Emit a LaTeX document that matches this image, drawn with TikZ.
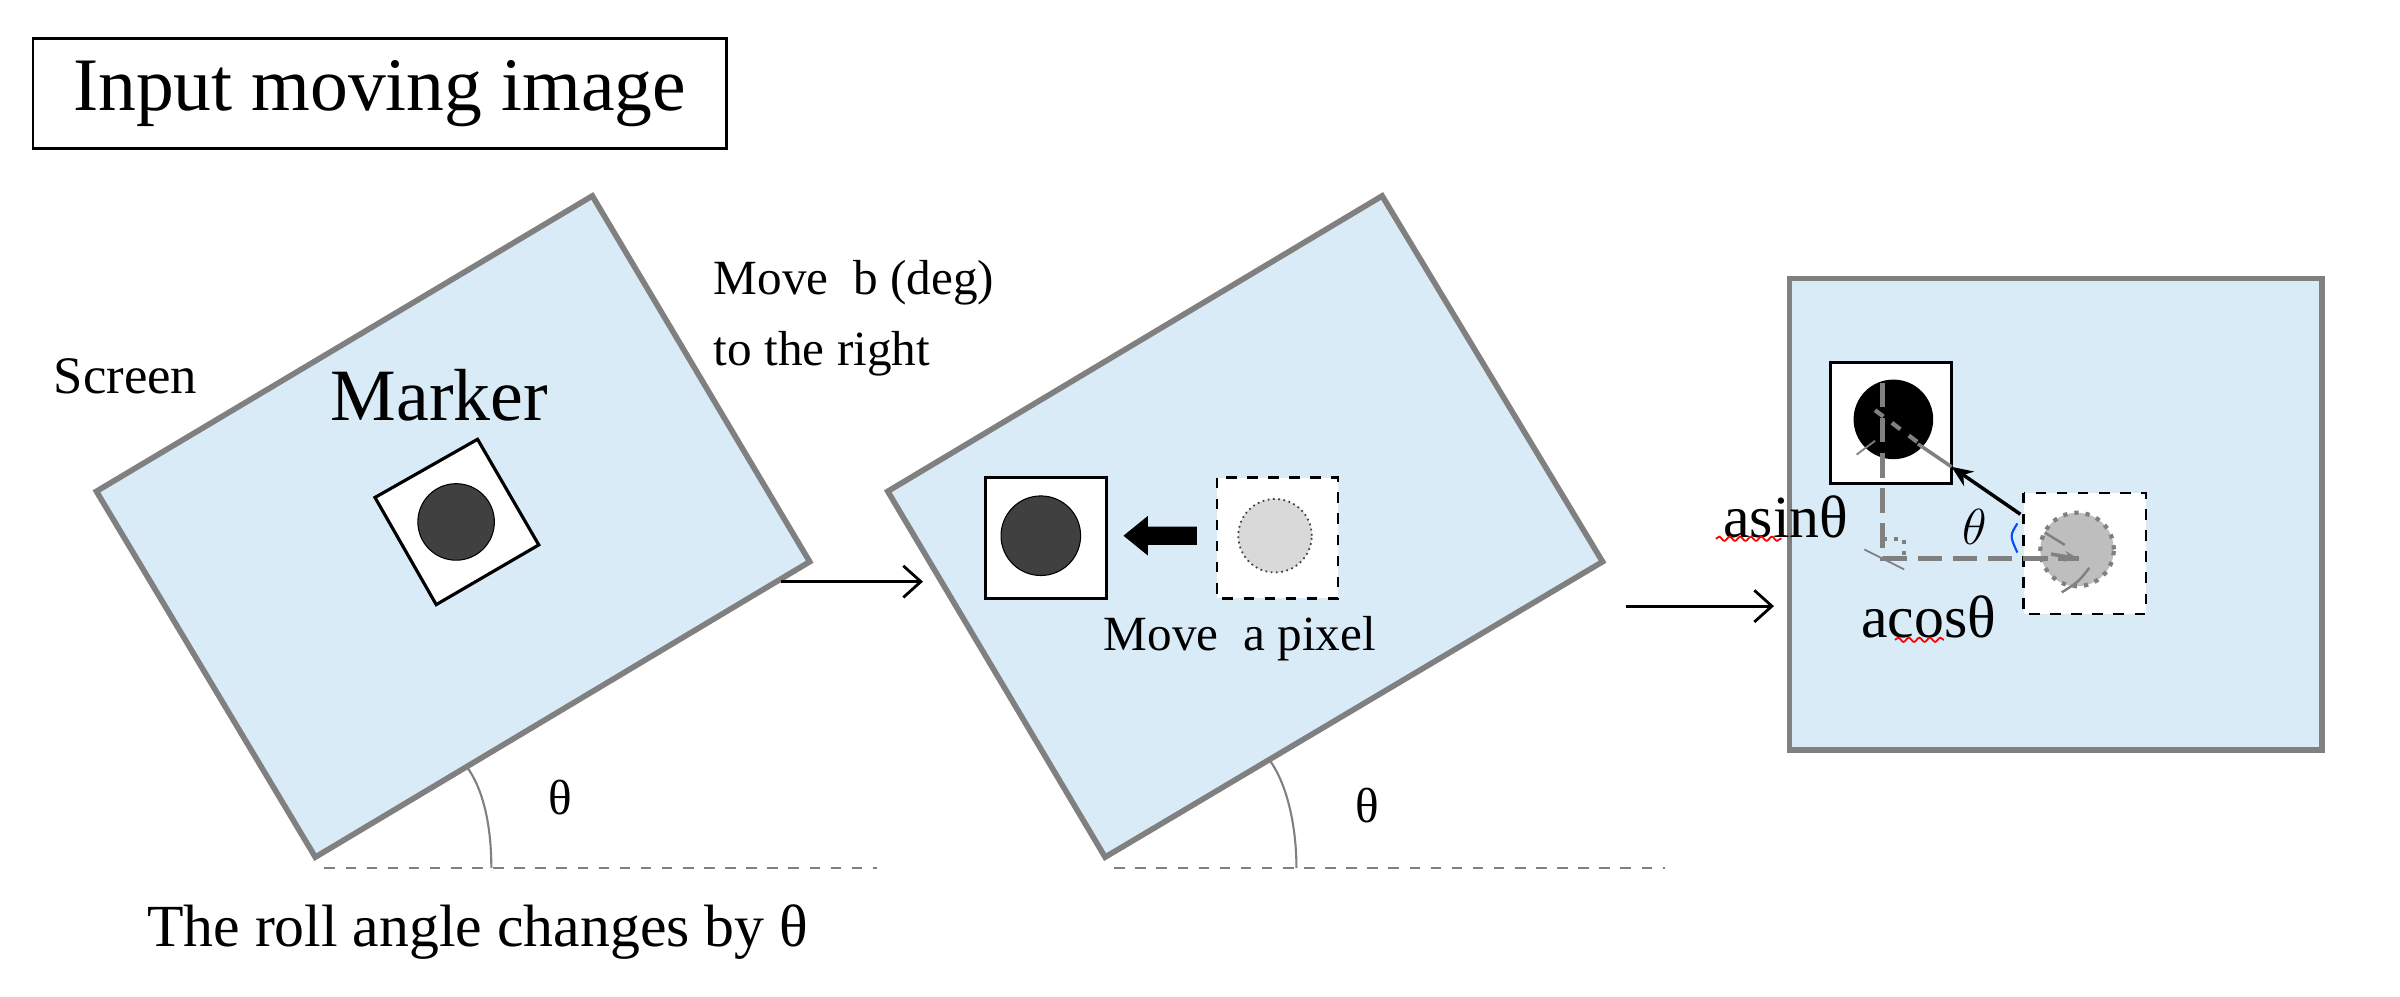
\documentclass[tikz,border=0pt]{standalone}
\usepackage{fontspec}
\setmainfont{Liberation Serif}
\usetikzlibrary{arrows.meta,decorations.pathmorphing}
\definecolor{scr}{RGB}{218,235,248}
\definecolor{edge}{RGB}{128,128,128}
\definecolor{dk}{RGB}{64,64,64}
\definecolor{lg}{RGB}{217,217,217}
\definecolor{mg}{RGB}{190,190,190}
\tikzset{
 screen/.style={fill=scr,draw=edge,line width=1.6pt},
 lbl/.style={font=\fontsize{14}{16}\selectfont,inner sep=0pt},
 big/.style={font=\fontsize{21.5}{24}\selectfont,inner sep=0pt},
 conn/.style={-{Straight Barb[length=5pt,width=9pt]},line width=0.8pt},
 base/.style={edge,dashed,line width=0.6pt},
 anglearc/.style={edge,line width=0.6pt},
 wavy/.style={red,line width=0.5pt,decorate,decoration={snake,amplitude=0.6pt,segment length=3pt}}
}
\begin{document}
\begin{tikzpicture}[x=0.0153cm,y=-0.0153cm]
\useasboundingbox (0,0) rectangle (1568,651);
% title
\node[big,draw,line width=0.8pt,minimum width=453*0.0153cm,minimum height=72*0.0153cm] (title) at (248,61) {Input moving image};
% panel 1
\draw[screen] (387,128) -- (529,367) -- (206,560) -- (63,321) -- cycle;
\draw[fill=white,line width=0.9pt] (312,287) -- (352,356) -- (285,395) -- (245,325) -- cycle;
\node[circle,fill=dk,draw=black,line width=0.3pt,minimum size=50*0.0153cm,inner sep=0] (m1) at (298,341) {};
\node[lbl,font=\fontsize{15}{17}\selectfont] (screenlbl) at (82,246) {Screen};
\node[big,font=\fontsize{21}{24}\selectfont] (marker) at (287,258) {Marker};
\node[lbl,anchor=west,align=left,font=\fontsize{14}{20}\selectfont] (move) at (466,208) {Move\ \ b (deg)\\to the right};
\draw[anglearc] (305,501) .. controls (316,516) and (321,540) .. (321,567);
\draw[base] (212,567) -- (573,567);
\node[lbl] (th1) at (366,521) {θ};
\node[lbl,font=\fontsize{17}{19}\selectfont] (roll) at (312,609) {The roll angle changes by θ};
\coordinate (a1s) at (510,380); \coordinate (a1e) at (603,380);
\draw[conn] (a1s) -- (a1e);
% panel 2
\draw[screen] (903,128) -- (1047,367) -- (722,560) -- (580,321) -- cycle;
\draw[fill=white,line width=0.9pt] (644,312) rectangle (723,391);
\node[circle,fill=dk,draw=black,line width=0.3pt,minimum size=52*0.0153cm,inner sep=0] (m2) at (680,350) {};
\draw[fill=white,dashed,line width=0.7pt] (795,312) rectangle (874,391);
\node[circle,fill=lg,draw=dk,densely dotted,line width=0.5pt,minimum size=48*0.0153cm,inner sep=0] (g2) at (833,350) {};
\fill (734,350) -- (750,337) -- (750,344) -- (782,344) -- (782,356) -- (750,356) -- (750,363) -- cycle;
\node[lbl] (pix) at (810,417) {Move\ \ a pixel};
\draw[anglearc] (829,496) .. controls (841,512) and (847,540) .. (847,567);
\draw[base] (728,567) -- (1088,567);
\node[lbl] (th2) at (893,526) {θ};
\coordinate (a2s) at (1062,396); \coordinate (a2e) at (1159,396);
\draw[conn] (a2s) -- (a2e);
% panel 3
\draw[screen] (1169,182) rectangle (1517,490);
\draw[fill=white,line width=0.9pt] (1196,237) rectangle (1275,316);
\node[circle,fill=black,minimum size=52*0.0153cm,inner sep=0] (m3) at (1237,274) {};
\draw[fill=white,dashed,line width=0.7pt] (1322,322) rectangle (1402,401);
\node[circle,fill=mg,draw=edge,dotted,line width=1.2pt,minimum size=48*0.0153cm,inner sep=0] (g3) at (1357,359) {};
\coordinate (vtop) at (1230,250); \coordinate (corner) at (1230,365); \coordinate (hend) at (1358,365);
\draw[edge,dashed,line width=1.6pt,dash pattern=on 7pt off 3pt] (vtop) -- (corner) -- (hend);
\draw[-{Stealth[length=4pt]},edge,line width=1pt] (1340,362) -- (hend);
\draw[edge,dotted,line width=1.2pt] (1230,352) -- (1244,352) -- (1244,365);
\draw[edge,dashed,line width=1.2pt] (1225,268) -- (1253,289);
\draw[edge,line width=0.5pt] (1213,297) -- (1225,288);
\draw[edge,line width=0.5pt] (1218,359) .. controls (1232,366) .. (1244,372);
\draw[edge,line width=0.7pt] (1336,348) -- (1349,356);
\draw[edge,line width=0.7pt] (1347,387) .. controls (1358,380) .. (1365,371);
\coordinate (aps) at (1320,336); \coordinate (ape) at (1275,305);
\draw[-{Stealth[length=6pt,width=5pt]},line width=1pt] (aps) -- (ape);
\draw[edge,line width=1pt] (1253,290) -- (ape);
\draw[blue!70!cyan,line width=0.6pt] (1318,342) .. controls (1313,350) .. (1318,361);
\node[lbl,font=\itshape\fontsize{15}{17}\selectfont] (th3) at (1290,344) {$\theta$};
\node[lbl,anchor=east,font=\fontsize{17}{19}\selectfont] (asin) at (1208,338) {asinθ};
\draw[wavy] (1121,352) -- (1164,352);
\node[lbl,font=\fontsize{17}{19}\selectfont] (acos) at (1260,403) {acosθ};
\draw[wavy] (1238,418) -- (1270,418);
\end{tikzpicture}
\end{document}
